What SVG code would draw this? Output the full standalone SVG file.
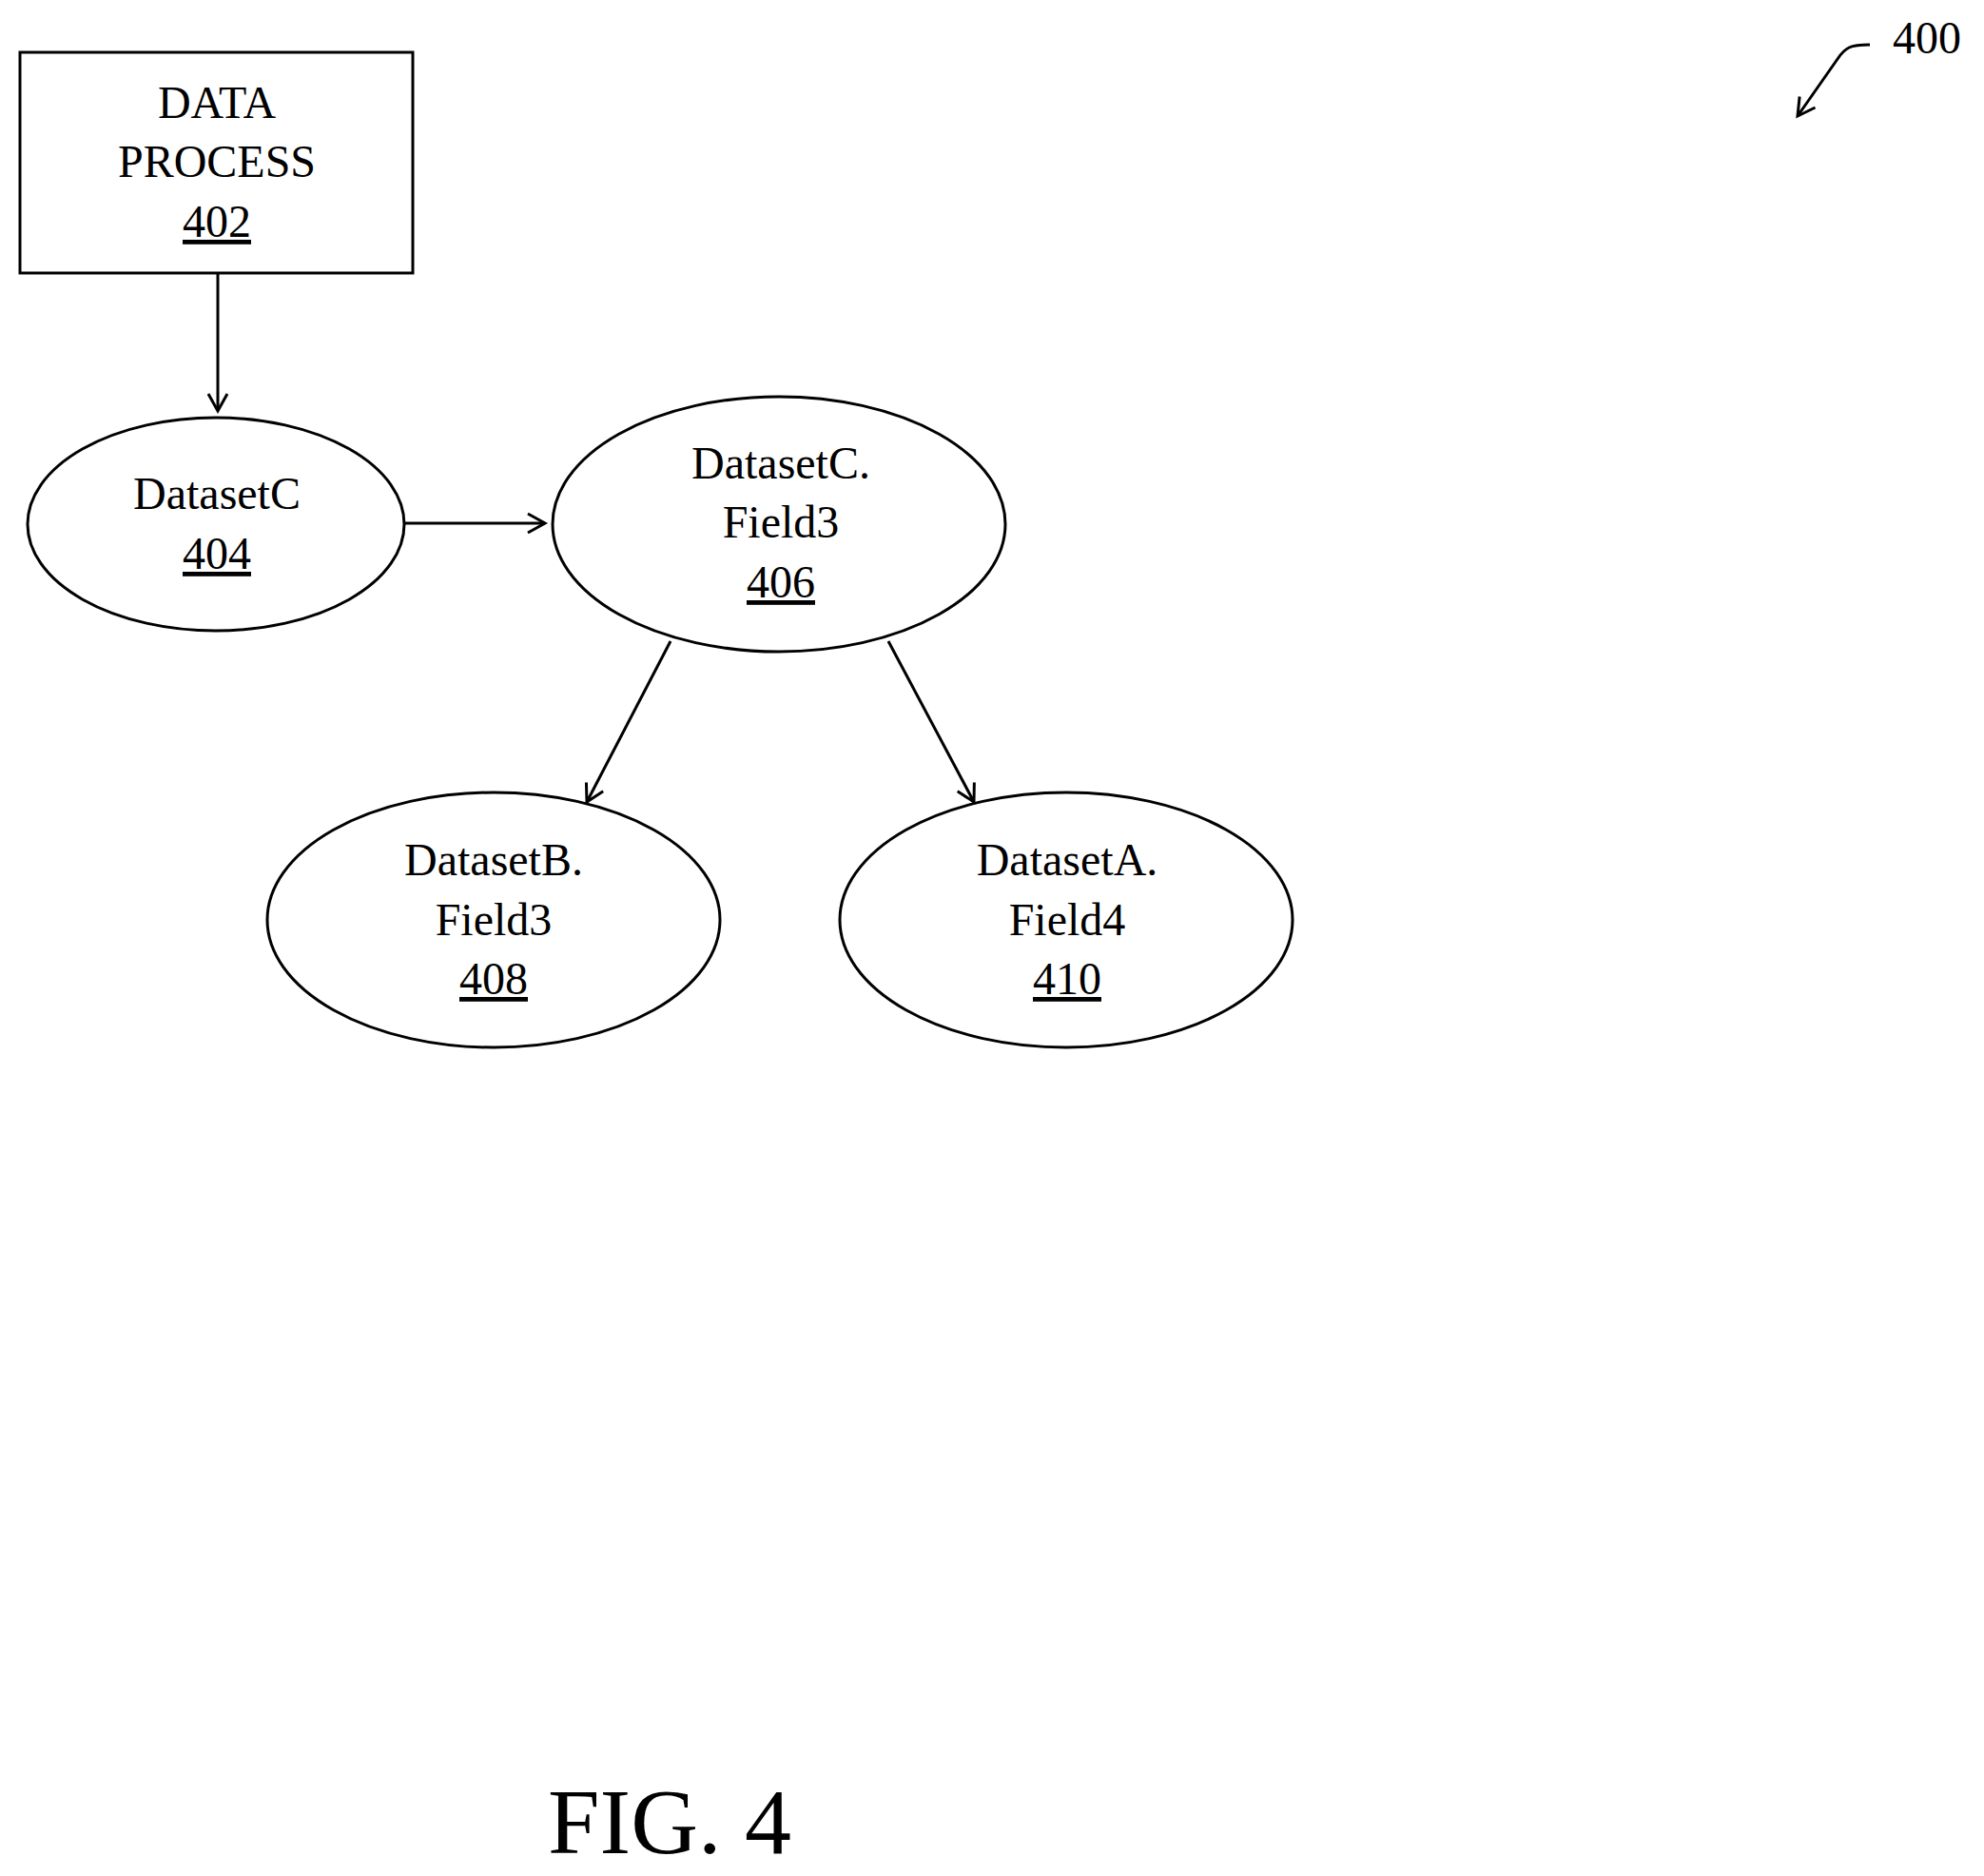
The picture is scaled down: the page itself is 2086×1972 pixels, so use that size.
<svg xmlns="http://www.w3.org/2000/svg" width="2086" height="1972" viewBox="0 0 2086 1972">
<style>
.n{fill:none;stroke:#000;stroke-width:3}
.t{font-family:"Liberation Serif",serif;font-size:48px;text-anchor:middle;fill:#000}
.c{fill:none;stroke:#000;stroke-width:3}
</style>
<defs><marker id="a" markerWidth="24" markerHeight="24" refX="20" refY="12" orient="auto" markerUnits="userSpaceOnUse"><path d="M2,2 L20,12 L2,22" fill="none" stroke="#000" stroke-width="3"/></marker></defs>
<rect width="2086" height="1972" fill="#fff"/>
<g id="n402"><rect class="n" x="21" y="55" width="413" height="232"/>
<text class="t" x="228" y="124">DATA</text><text class="t" x="228" y="186">PROCESS</text><text class="t" x="228" y="249" text-decoration="underline">402</text></g>
<g id="n404"><ellipse class="n" cx="227" cy="551" rx="198" ry="112"/>
<text class="t" x="228" y="535">DatasetC</text><text class="t" x="228" y="598" text-decoration="underline">404</text></g>
<g id="n406"><ellipse class="n" cx="819" cy="551" rx="238" ry="134"/>
<text class="t" x="821" y="503">DatasetC.</text><text class="t" x="821" y="565">Field3</text><text class="t" x="821" y="628" text-decoration="underline">406</text></g>
<g id="n408"><ellipse class="n" cx="519" cy="967" rx="238" ry="134"/>
<text class="t" x="519" y="920">DatasetB.</text><text class="t" x="519" y="983">Field3</text><text class="t" x="519" y="1045" text-decoration="underline">408</text></g>
<g id="n410"><ellipse class="n" cx="1121" cy="967" rx="238" ry="134"/>
<text class="t" x="1122" y="920">DatasetA.</text><text class="t" x="1122" y="983">Field4</text><text class="t" x="1122" y="1045" text-decoration="underline">410</text></g>
<g id="connectors">
<line class="c" x1="229" y1="287" x2="229" y2="432" marker-end="url(#a)"/>
<line class="c" x1="426" y1="550" x2="573" y2="550" marker-end="url(#a)"/>
<line class="c" x1="705" y1="674" x2="617" y2="843" marker-end="url(#a)"/>
<line class="c" x1="934" y1="674" x2="1024" y2="843" marker-end="url(#a)"/>
<path class="c" d="M1966,47 C1945,47 1940,50 1932,62 L1890,122" marker-end="url(#a)"/>
</g>
<text x="2026" y="56" style="font-family:'Liberation Serif',serif;font-size:48px;text-anchor:middle">400</text>
<text x="704" y="1948" style="font-family:'Liberation Serif',serif;font-size:98px;text-anchor:middle">FIG. 4</text>
</svg>
